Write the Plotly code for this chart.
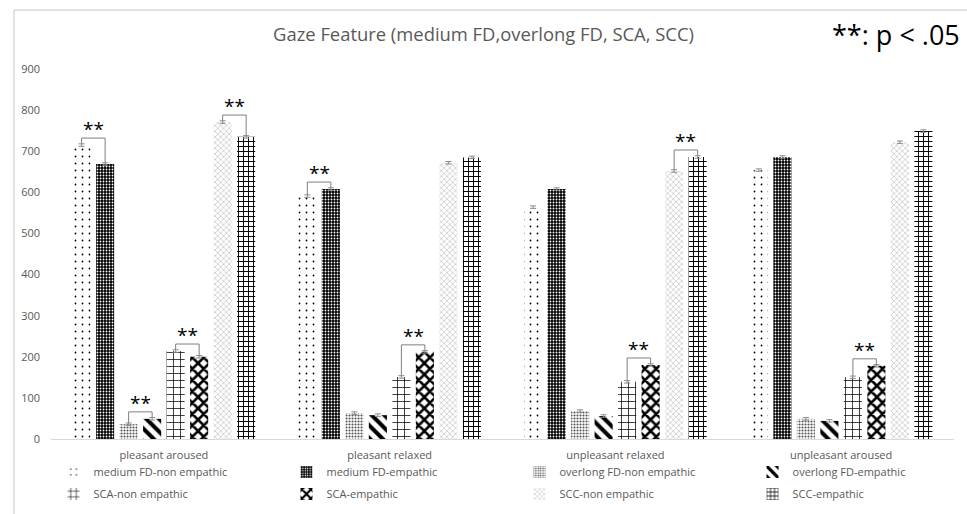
import plotly.graph_objects as go

# Emotion conditions on the x axis
categories = ["pleasant aroused", "pleasant relaxed", "unpleasant relaxed", "unpleasant aroused"]

# Mean values per condition for each gaze feature / group
medium_fd_non_empathic = [715, 591, 564, 654]
medium_fd_empathic = [669, 608, 608, 686]
overlong_fd_non_empathic = [36, 63, 68, 49]
overlong_fd_empathic = [49, 58, 56, 44]
sca_non_empathic = [214, 151, 139, 150]
sca_empathic = [200, 212, 180, 178]
scc_non_empathic = [771, 672, 652, 722]
scc_empathic = [735, 685, 686, 749]

# Small error bars drawn at the top of each bar
sem = [3, 3, 3, 3]

series_names = [
    "medium FD-non empathic", "medium FD-empathic",
    "overlong FD-non empathic", "overlong FD-empathic",
    "SCA-non empathic", "SCA-empathic",
    "SCC-non empathic", "SCC-empathic",
]
series_values = [
    medium_fd_non_empathic, medium_fd_empathic,
    overlong_fd_non_empathic, overlong_fd_empathic,
    sca_non_empathic, sca_empathic,
    scc_non_empathic, scc_empathic,
]

# Significant pairs: (condition index, left series index, right series index)
significant_pairs = [
    (0, 0, 1), (0, 2, 3), (0, 4, 5), (0, 6, 7),
    (1, 0, 1), (1, 4, 5),
    (2, 4, 5), (2, 6, 7),
    (3, 4, 5),
]

# Black-and-white fill patterns, one per series
patterns = [
    dict(shape=".", fgcolor="black", bgcolor="white", size=7, solidity=0.05),
    dict(shape=".", fgcolor="white", bgcolor="black", size=3, solidity=0.3),
    dict(shape=".", fgcolor="#555555", bgcolor="white", size=3, solidity=0.4),
    dict(shape="\\", fgcolor="black", bgcolor="white", size=9, solidity=0.45),
    dict(shape="+", fgcolor="black", bgcolor="white", size=7, solidity=0.2),
    dict(shape="x", fgcolor="black", bgcolor="white", size=8, solidity=0.55),
    dict(shape="x", fgcolor="#8f8f8f", bgcolor="white", size=4, solidity=0.18),
    dict(shape="+", fgcolor="black", bgcolor="white", size=5, solidity=0.35),
]

legend_ids = ["legend", "legend2", "legend3", "legend4"]

BARGAP = 0.167
GROUPGAP = 0.23
N = len(series_names)

fig = go.Figure()
x_idx = list(range(len(categories)))
for j, (name, vals) in enumerate(zip(series_names, series_values)):
    fig.add_trace(go.Bar(
        x=x_idx, y=vals, name=name, legendgroup=name,
        marker=dict(pattern=dict(fillmode="replace", **patterns[j]),
                    line=dict(width=0)),
        error_y=dict(type="data", array=sem, color="#8c8c8c", thickness=1, width=3),
        legend=legend_ids[j % 4],
    ))


def bar_center(group, series):
    span = 1 - BARGAP
    slot = span / N
    return group - span / 2 + (series + 0.5) * slot


shapes = []
annotations = []
line_style = dict(color="#7f7f7f", width=1)
for g, a, b in significant_pairs:
    xa, xb = bar_center(g, a), bar_center(g, b)
    ya = series_values[a][g] + sem[g]
    yb = series_values[b][g] + sem[g]
    top = max(ya, yb) + 14
    shapes.append(dict(type="path", xref="x", yref="y",
                       path=f"M {xa},{ya} L {xa},{top} L {xb},{top} L {xb},{yb}",
                       line=line_style))
    annotations.append(dict(x=(xa + xb) / 2, y=top, xref="x", yref="y",
                            text="**", showarrow=False, yanchor="bottom",
                            yshift=-6, font=dict(size=19, color="black")))

# Chart-area border (top and left edges)
shapes.append(dict(type="line", xref="paper", yref="paper",
                   x0=-0.041, x1=1.02, y0=1.1595, y1=1.1595,
                   line=dict(color="#d9d9d9", width=1.5)))
shapes.append(dict(type="line", xref="paper", yref="paper",
                   x0=-0.041, x1=-0.041, y0=1.1595, y1=-0.22,
                   line=dict(color="#d9d9d9", width=1.5)))

annotations.append(dict(x=1.009, y=1.094, xref="paper", yref="paper",
                        text="**: p < .05", showarrow=False,
                        xanchor="right", yanchor="middle",
                        font=dict(size=27, color="black", family="Open Sans")))

legend_common = dict(
    orientation="v", yanchor="top", y=-0.05, xanchor="left",
    font=dict(size=11, color="#595959"), bgcolor="rgba(0,0,0,0)",
    tracegroupgap=3, itemwidth=30,
)

fig.update_layout(
    width=967, height=514,
    margin=dict(l=51, r=13, t=69, b=75, autoexpand=False),
    paper_bgcolor="white", plot_bgcolor="white",
    font=dict(family="Open Sans", color="#595959"),
    title=dict(text="Gaze Feature (medium FD,overlong FD, SCA, SCC)",
               x=0.5, xanchor="center", y=0.932, yanchor="middle",
               font=dict(size=18.4, color="#595959")),
    barmode="group", bargap=BARGAP, bargroupgap=GROUPGAP,
    xaxis=dict(tickmode="array", tickvals=x_idx, ticktext=categories,
               range=[-0.5, len(categories) - 0.5],
               showline=True, linecolor="#d9d9d9", linewidth=1,
               ticks="", showgrid=False, zeroline=False, ticklabelstandoff=6,
               tickfont=dict(size=11, color="#595959")),
    yaxis=dict(range=[0, 900], dtick=100, showgrid=False, zeroline=False,
               showline=False, ticks="", ticklabelstandoff=10,
               tickfont=dict(size=11, color="#595959")),
    shapes=shapes,
    annotations=annotations,
    legend=dict(legend_common, x=0.0028),
    legend2=dict(legend_common, x=0.2608),
    legend3=dict(legend_common, x=0.5188),
    legend4=dict(legend_common, x=0.7769),
)

fig.write_html("out.html")
